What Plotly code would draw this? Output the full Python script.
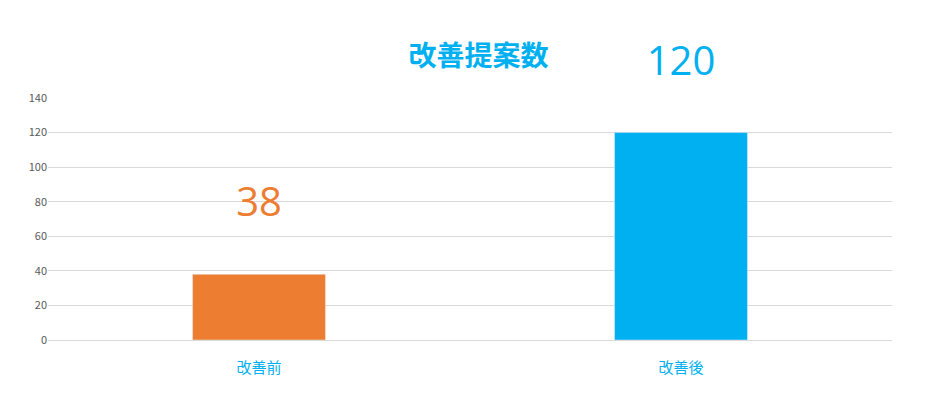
import plotly.graph_objects as go

categories = ["改善前", "改善後"]
values = [38, 120]
colors = ["#ED7D31", "#00B0F0"]
title = "改善提案数"

fig = go.Figure(go.Bar(
    x=categories, y=values, marker_color=colors, width=0.315,
    texttemplate="%{y}<br><span style='font-size:10px'> </span>", textposition="outside",
    textfont=dict(size=40, color=colors, family="Open Sans"),
    cliponaxis=False,
))
fig.update_layout(
    width=941, height=418, margin=dict(l=40, r=57, t=90, b=86),
    paper_bgcolor="white", plot_bgcolor="white", showlegend=False,
    title=dict(text="<b>"+title+"</b>", x=0.5, y=0.885, xanchor="center", yanchor="middle",
               font=dict(size=28, color="#00B0F0", family="Noto Sans CJK JP")),
    font=dict(family="Noto Sans CJK JP"),
)
fig.update_yaxes(range=[0, 140], dtick=20, gridcolor="#D9D9D9", zeroline=False,
                 tickfont=dict(size=11, color="#595959"), ticks="", showline=False)
fig.update_xaxes(showline=True, linecolor="#D9D9D9", ticks="", ticklabelstandoff=14,
                 tickfont=dict(size=15, color="#00B0F0"))
fig.write_html("out.html")
